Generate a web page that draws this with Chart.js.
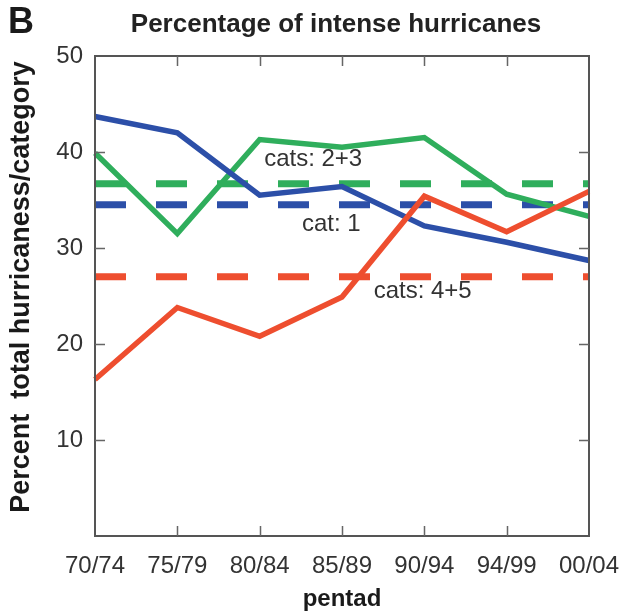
<!DOCTYPE html>
<html>
<head>
<meta charset="utf-8">
<script src="https://cdn.jsdelivr.net/npm/chart.js@4/dist/chart.umd.min.js"></script>
<style>
  html, body { margin: 0; padding: 0; background: #ffffff; }
  #wrap { width: 628px; height: 613px; position: relative; }
</style>
</head>
<body>
<div id="wrap"><canvas id="c" width="628" height="613"></canvas></div>
<script>
// ---- data ----
const pentads = ["70/74", "75/79", "80/84", "85/89", "90/94", "94/99", "00/04"];
const cat1 = [43.7, 42.0, 35.5, 36.4, 32.3, 30.6, 28.7];
const cats23 = [39.9, 31.5, 41.3, 40.5, 41.5, 35.6, 33.3];
const cats45 = [16.3, 23.8, 20.8, 24.9, 35.4, 31.7, 35.9];
const meanCat1 = 34.5;
const meanCats23 = 36.7;
const meanCats45 = 27.0;
const yTicks = [10, 20, 30, 40, 50];
const seriesLabels = [
  { text: "cats: 2+3", x: 2.65, y: 39.2 },
  { text: "cat: 1", x: 2.87, y: 32.5 },
  { text: "cats: 4+5", x: 3.98, y: 25.5 }
];

const BLUE = "#2c4fa8";
const GREEN = "#2fae5c";
const RED = "#ee4e2f";
const FONT = "'Liberation Sans', Arial, Helvetica, sans-serif";

const flat = v => pentads.map(() => v);

const decor = {
  id: "decor",
  afterDatasetsDraw(chart) {
    const ctx = chart.ctx;
    const a = chart.chartArea;
    const xs = chart.scales.x, ys = chart.scales.y;
    ctx.save();
    // frame
    ctx.strokeStyle = "#555";
    ctx.lineWidth = 2;
    ctx.strokeRect(a.left, a.top, a.right - a.left, a.bottom - a.top);
    // inward ticks
    ctx.lineWidth = 1.5;
    ctx.strokeStyle = "#666";
    const tl = 10;
    for (let i = 1; i < pentads.length - 1; i++) {
      const px = Math.round(xs.getPixelForValue(i)) + 0.5;
      ctx.beginPath();
      ctx.moveTo(px, a.bottom); ctx.lineTo(px, a.bottom - tl);
      ctx.moveTo(px, a.top); ctx.lineTo(px, a.top + tl);
      ctx.stroke();
    }
    yTicks.forEach(v => {
      if (v >= 50) return;
      const py = Math.round(ys.getPixelForValue(v)) + 0.5;
      ctx.beginPath();
      ctx.moveTo(a.left, py); ctx.lineTo(a.left + tl, py);
      ctx.moveTo(a.right, py); ctx.lineTo(a.right - tl, py);
      ctx.stroke();
    });
    // series labels
    ctx.fillStyle = "#333";
    ctx.font = "24px " + FONT;
    ctx.textAlign = "center";
    ctx.textBaseline = "middle";
    seriesLabels.forEach(l => {
      ctx.fillText(l.text, xs.getPixelForValue(l.x), ys.getPixelForValue(l.y));
    });
    // panel letter and title
    ctx.fillStyle = "#1a1a1a";
    ctx.font = "bold 36px " + FONT;
    ctx.textAlign = "left";
    ctx.fillText("B", 8, 23);
    ctx.fillStyle = "#222";
    ctx.font = "bold 26px " + FONT;
    ctx.textAlign = "center";
    ctx.fillText("Percentage of intense hurricanes", 336, 25);
    // axis titles
    ctx.fillStyle = "#1a1a1a";
    ctx.font = "bold 24px " + FONT;
    ctx.fillText("pentad", (a.left + a.right) / 2, 599);
    ctx.save();
    ctx.translate(22, 287);
    ctx.rotate(-Math.PI / 2);
    ctx.font = "bold 27px " + FONT;
    ctx.fillText("Percent  total hurricaness/category", 0, 0);
    ctx.restore();
    ctx.restore();
  }
};

const dashStyle = { borderWidth: 7, borderDash: [31, 30], borderCapStyle: "butt", pointRadius: 0, tension: 0, fill: false, order: 3 };

new Chart(document.getElementById("c"), {
  type: "line",
  data: {
    labels: pentads,
    datasets: [
      Object.assign({ label: "cats: 2+3 mean", data: flat(meanCats23), borderColor: GREEN }, dashStyle),
      Object.assign({ label: "cat: 1 mean", data: flat(meanCat1), borderColor: BLUE }, dashStyle),
      Object.assign({ label: "cats: 4+5 mean", data: flat(meanCats45), borderColor: RED }, dashStyle),
      { label: "cats: 2+3", data: cats23, borderColor: GREEN, borderWidth: 5.5, pointRadius: 0, tension: 0, fill: false, order: 2, borderJoinStyle: "miter" },
      { label: "cat: 1", data: cat1, borderColor: BLUE, borderWidth: 5.5, pointRadius: 0, tension: 0, fill: false, order: 1, borderJoinStyle: "miter" },
      { label: "cats: 4+5", data: cats45, borderColor: RED, borderWidth: 5.5, pointRadius: 0, tension: 0, fill: false, order: 0, borderJoinStyle: "miter" }
    ]
  },
  options: {
    responsive: false,
    animation: false,
    devicePixelRatio: 1,
    clip: false,
    layout: { autoPadding: false, padding: { top: 56, right: 39, left: 0, bottom: 0 } },
    plugins: { legend: { display: false }, tooltip: { enabled: false }, title: { display: false } },
    scales: {
      x: {
        type: "category",
        offset: false,
        grid: { display: false, drawTicks: false },
        border: { display: false },
        ticks: { color: "#333", font: { family: FONT, size: 24 }, padding: 16, maxRotation: 0, autoSkip: false },
        afterFit(s) { s.height = 77; s.paddingLeft = 0; s.paddingRight = 0; }
      },
      y: {
        min: 0, max: 50,
        grid: { display: false, drawTicks: false },
        border: { display: false },
        afterBuildTicks(s) { s.ticks = yTicks.map(v => ({ value: v })); },
        ticks: { color: "#333", font: { family: FONT, size: 24 }, padding: 12 },
        afterFit(s) { s.width = 95; s.paddingTop = 0; s.paddingBottom = 0; }
      }
    }
  },
  plugins: [decor]
});
</script>
</body>
</html>
